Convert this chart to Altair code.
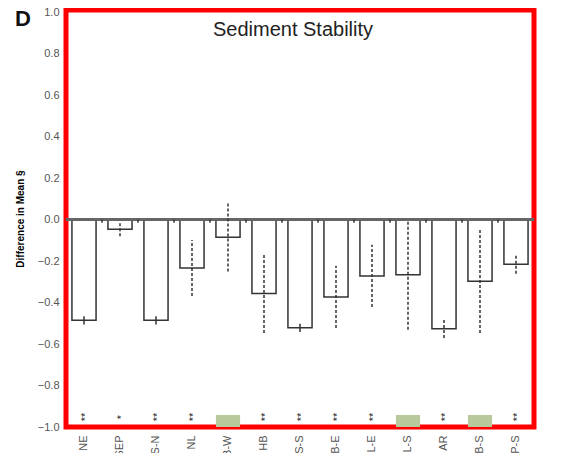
import altair as alt
import pandas as pd

cats = ["NE", "SEP", "NS-N", "NL", "HB-W", "HB", "NS-S", "HB-E", "NL-E", "NL-S", "AR", "HB-S", "EP-S"]
means = [-0.486, -0.047, -0.486, -0.234, -0.085, -0.357, -0.522, -0.373, -0.272, -0.266, -0.526, -0.297, -0.216]
errs = [0.02, 0.033, 0.02, 0.135, 0.165, 0.19, 0.02, 0.15, 0.15, 0.265, 0.045, 0.25, 0.045]
err_style = ["solid", "dashed", "solid", "dashed", "dashed", "dashed", "solid",
             "dashed", "dashed", "dashed", "dashed", "dashed", "dashed"]
signif = ["**", "*", "**", "**", "", "**", "**", "**", "**", "", "**", "", "**"]
green_flag = [False, False, False, False, True, False, False, False, False, True, False, True, False]
y_ticks = [-1.0, -0.8, -0.6, -0.4, -0.2, 0.0, 0.2, 0.4, 0.6, 0.8, 1.0]

df = pd.DataFrame({
    "cat": cats,
    "mean": means,
    "lo": [m - e for m, e in zip(means, errs)],
    "hi": [m + e for m, e in zip(means, errs)],
    "style": err_style,
    "sig": signif,
    "green": green_flag,
})
df["gtop"] = -0.942
df["gbot"] = -1.0
df["sigy"] = -0.952
df["tick0"] = 0.0
df["tick1"] = -0.016

FONT = "Liberation Sans"
xscale = alt.Scale(domain=cats, paddingInner=0, paddingOuter=0)
yscale = alt.Scale(domain=[-1.0, 1.01], nice=False, zero=False)

x_enc = alt.X("cat:N", scale=xscale, sort=cats,
              axis=alt.Axis(title=None, labelAngle=-90, labelFontSize=11, labelColor="#555555",
                            labelPadding=8, ticks=False, domain=False, labelFont=FONT))
y_axis = alt.Axis(title="Difference in Mean §", values=y_ticks, format=".1f", grid=False,
                  ticks=False, domain=False, labelFontSize=11, labelColor="#555555",
                  labelPadding=7, titleFontSize=10, titleFontWeight="bold", titleColor="#000000",
                  titlePadding=12, labelFont=FONT, titleFont=FONT)

base = alt.Chart(df)

bars = base.mark_bar(width=alt.RelativeBandSize(0.67), fill="white", stroke="#333333",
                     strokeWidth=1.5).encode(
    x=x_enc,
    y=alt.Y("mean:Q", scale=yscale, axis=y_axis),
    y2=alt.Y2("tick0:Q"),
)

zero = base.mark_rule(color="#666666", strokeWidth=1.5).encode(y=alt.datum(0.0))

ticks = base.transform_filter(alt.datum.cat != "NE").mark_rule(
    color="#333333", strokeWidth=1.5).encode(
    x=alt.X("cat:N", sort=cats, bandPosition=0),
    y="tick0:Q",
    y2="tick1:Q",
)

errbars = base.mark_rule(color="#333333", strokeWidth=1.5).encode(
    x=alt.X("cat:N", sort=cats),
    y="lo:Q",
    y2="hi:Q",
    strokeDash=alt.StrokeDash("style:N", scale=alt.Scale(domain=["solid", "dashed"],
                                                          range=[[1, 0], [3, 2]]), legend=None),
)

greens = base.transform_filter(alt.datum.green).mark_bar(
    width=alt.RelativeBandSize(0.67), color="#b8c99b").encode(
    x=alt.X("cat:N", sort=cats),
    y="gtop:Q",
    y2="gbot:Q",
)

sigs = base.transform_filter(alt.datum.sig != "").mark_text(
    angle=270, fontSize=11, font=FONT, color="#111111", baseline="middle", align="center",
    dy=2).encode(
    x=alt.X("cat:N", sort=cats),
    y="sigy:Q",
    text="sig:N",
)

letter = alt.Chart(pd.DataFrame({"t": ["D"]})).mark_text(
    fontSize=22, fontWeight="bold", font=FONT, align="left", baseline="alphabetic",
    color="#111111").encode(x=alt.value(-51), y=alt.value(16), text="t:N")

chart = alt.layer(bars, zero, ticks, errbars, greens, sigs, letter).properties(
    width=468,
    height=417,
    title=alt.TitleParams("Sediment Stability", fontSize=20, font=FONT, fontWeight="normal",
                          color="#222222", anchor="middle", baseline="alphabetic",
                          offset=-27, dx=-7, dy=23),
    autosize=alt.AutoSizeParams(type="none"),
    padding={"left": 58, "top": 2, "right": 24, "bottom": 26},
).configure_view(stroke="#ff0000", strokeWidth=5)

chart.save("out.html", embed_options={"renderer": "svg", "actions": False})
